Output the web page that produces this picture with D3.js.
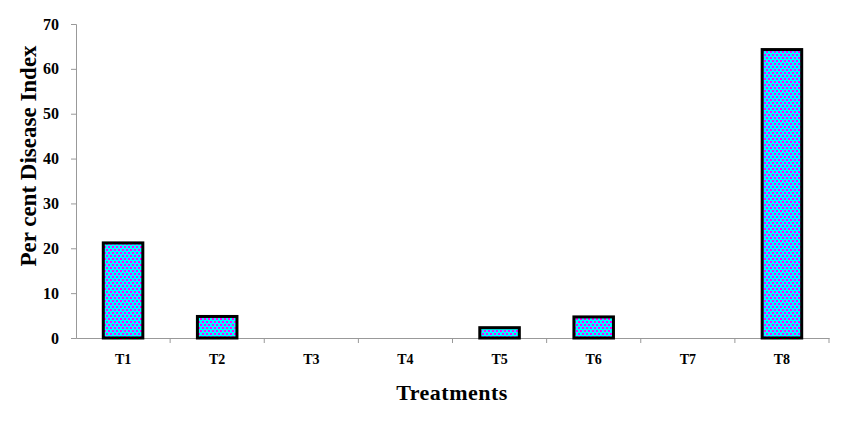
<!DOCTYPE html>
<html>
<head>
<meta charset="utf-8">
<script src="https://cdn.jsdelivr.net/npm/d3@7"></script>
<style>
  body { margin: 0; background: #fff; }
  svg { display: block; }
  svg text { font-family: "Liberation Serif", "Times New Roman", serif; }
</style>
</head>
<body>
<svg id="chart" width="844" height="427"></svg>
<script>
const treatments = ["T1", "T2", "T3", "T4", "T5", "T6", "T7", "T8"];
const diseaseIndex = [21.2, 4.8, 0, 0, 2.3, 4.7, 0, 64.3];
const yTicks = [0, 10, 20, 30, 40, 50, 60, 70];

const svg = d3.select("#chart");
const margin = { top: 24, right: 15, bottom: 89, left: 76 };
const width = 844 - margin.left - margin.right;
const height = 427 - margin.top - margin.bottom;
const g = svg.append("g").attr("transform", `translate(${margin.left},${margin.top})`);

// checkered cyan / magenta fill
const defs = svg.append("defs");
const pat = defs.append("pattern")
    .attr("id", "check")
    .attr("patternUnits", "userSpaceOnUse")
    .attr("width", 4)
    .attr("height", 6)
    .attr("shape-rendering", "crispEdges");
pat.append("rect").attr("width", 4).attr("height", 6).attr("fill", "#00ffff");
pat.append("rect").attr("x", 0).attr("y", 0).attr("width", 2).attr("height", 2).attr("fill", "#ff00ff");
pat.append("rect").attr("x", 2).attr("y", 3).attr("width", 2).attr("height", 2).attr("fill", "#ff00ff");

const x = d3.scaleBand().domain(treatments).range([0, width]).padding(0);
const y = d3.scaleLinear().domain([0, 70]).range([height, 0]);
const barW = x.bandwidth() * 0.42;

// y axis
const yAxis = g.append("g")
    .call(d3.axisLeft(y).tickValues(yTicks).tickSize(5).tickPadding(12))
    .attr("font-family", null);
yAxis.select(".domain").attr("stroke", "#999");
yAxis.selectAll(".tick line").attr("stroke", "#999");
yAxis.selectAll("text")
    .attr("font-size", "16px")
    .attr("font-weight", "bold")
    .attr("fill", "#000");

// x axis: labels centered, tick marks on category boundaries
const xAxis = g.append("g")
    .attr("transform", `translate(0,${height})`)
    .call(d3.axisBottom(x).tickSize(0).tickPadding(16))
    .attr("font-family", null);
xAxis.select(".domain").attr("stroke", "#999");
xAxis.selectAll("text")
    .attr("font-size", "14px")
    .attr("font-weight", "bold")
    .attr("fill", "#000");
xAxis.selectAll(".bound")
    .data(treatments.slice(1).concat(["end"]))
    .join("line")
    .attr("x1", (d, i) => x(treatments[0]) + (i + 1) * x.step())
    .attr("x2", (d, i) => x(treatments[0]) + (i + 1) * x.step())
    .attr("y1", 0)
    .attr("y2", 5)
    .attr("stroke", "#999");

// bars
g.selectAll(".bar")
    .data(treatments.map((t, i) => ({ t, v: diseaseIndex[i] })).filter((d) => d.v > 0))
    .join("rect")
    .attr("x", (d) => x(d.t) + (x.bandwidth() - barW) / 2)
    .attr("y", (d) => y(d.v))
    .attr("width", barW)
    .attr("height", (d) => y(0) - y(d.v))
    .attr("fill", "url(#check)")
    .attr("stroke", "#000")
    .attr("stroke-width", 3);

// titles
svg.append("text")
    .attr("transform", "translate(36,156) rotate(-90)")
    .attr("text-anchor", "middle")
    .attr("font-size", "23px")
    .attr("font-weight", "bold")
    .text("Per cent Disease Index");

svg.append("text")
    .attr("x", 452)
    .attr("y", 400)
    .attr("text-anchor", "middle")
    .attr("font-size", "22px")
    .attr("font-weight", "bold")
    .attr("letter-spacing", "0.5px")
    .text("Treatments");
</script>
</body>
</html>
